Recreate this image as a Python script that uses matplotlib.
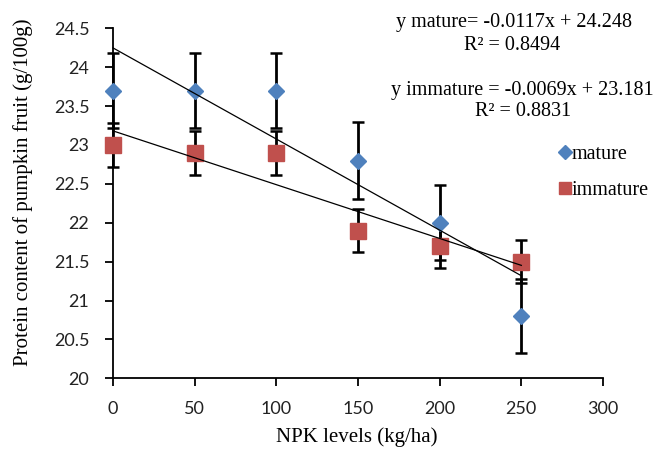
import numpy as np
import matplotlib.pyplot as plt

# NPK levels (kg/ha)
npk = [0, 50, 100, 150, 200, 250]
mature = [23.7, 23.7, 23.7, 22.8, 22.0, 20.8]
mature_err = [0.48, 0.48, 0.48, 0.5, 0.48, 0.48]
immature = [23.0, 22.9, 22.9, 21.9, 21.7, 21.5]
immature_err = [0.28, 0.28, 0.28, 0.28, 0.28, 0.28]

xticks = [0, 50, 100, 150, 200, 250, 300]
yticks = [20, 20.5, 21, 21.5, 22, 22.5, 23, 23.5, 24, 24.5]

BLUE = '#4F81BD'
RED = '#C0504D'
SERIF = 'Liberation Serif'

fig = plt.figure(figsize=(6.59, 4.49), dpi=100)
ax = fig.add_axes([0.1715, 0.1574, 0.7435, 0.7796])

# error bars first, markers on top
for ys, err in ((mature, mature_err), (immature, immature_err)):
    eb = ax.errorbar(npk, ys, yerr=err, fmt='none', ecolor='k',
                     elinewidth=2, capsize=4.5, capthick=1.8, zorder=2)
    for art in eb.lines[1] + eb.lines[2]:
        art.set_clip_on(False)
ax.plot(npk, mature, 'D', color=BLUE, ms=8.5, mec=BLUE, zorder=3,
        label='mature', clip_on=False)
ax.plot(npk, immature, 's', color=RED, ms=11, mec=RED, zorder=3,
        label='immature', clip_on=False)

# linear trendlines
x = np.array(npk, dtype=float)
for ys in (mature, immature):
    m, b = np.polyfit(x, ys, 1)
    xx = np.array([x.min(), x.max()])
    ax.plot(xx, m * xx + b, color='k', lw=0.9, zorder=4, clip_on=False)

ax.set_xlim(0, 300)
ax.set_ylim(20, 24.5)
ax.set_xticks(xticks)
ax.set_yticks(yticks)
ax.set_xticklabels([str(t) for t in xticks], fontfamily='Lato', fontsize=13, color='#222222')
ax.set_yticklabels([('%g' % t) for t in yticks], fontfamily='Lato', fontsize=13, color='#222222')
for s in ['top', 'right']:
    ax.spines[s].set_visible(False)
for s in ['left', 'bottom']:
    ax.spines[s].set_linewidth(1.3)
ax.tick_params(direction='out', length=6, width=1.3)
ax.tick_params(axis='y', pad=11)
ax.tick_params(axis='x', pad=10)

# axis titles
fig.text(357 / 659, 1 - 437 / 449, 'NPK levels (kg/ha)', ha='center', va='center',
         fontfamily=SERIF, fontsize=15)
fig.text(23 / 659, 1 - 192 / 449, 'Protein content of pumpkin fruit (g/100g)',
         ha='center', va='center', rotation=90, fontfamily=SERIF, fontsize=15)

# equations
fig.text(514 / 659, 1 - 22 / 449, 'y mature= -0.0117x + 24.248', ha='center', va='center',
         fontfamily=SERIF, fontsize=14.5)
fig.text(512 / 659, 1 - 45 / 449, 'R² = 0.8494', ha='center', va='center',
         fontfamily=SERIF, fontsize=14.5)
fig.text(522 / 659, 1 - 90 / 449, 'y immature = -0.0069x + 23.181', ha='center', va='center',
         fontfamily=SERIF, fontsize=14.5)
fig.text(523 / 659, 1 - 112 / 449, 'R² = 0.8831', ha='center', va='center',
         fontfamily=SERIF, fontsize=14.5)

leg = ax.legend(loc='center left', bbox_to_anchor=(0.895, 0.588), frameon=False,
                prop={'family': SERIF, 'size': 14.5}, handlelength=0.5,
                handletextpad=0.1, labelspacing=0.85, borderaxespad=0,
                markerscale=0.85)

plt.savefig('out.png', dpi=100)
